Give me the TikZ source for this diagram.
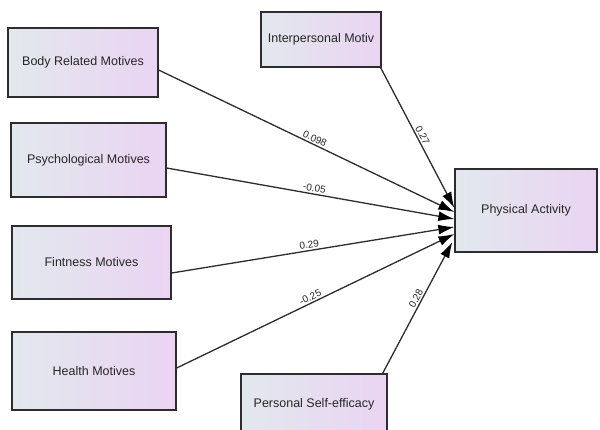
\documentclass[tikz,border=0pt]{standalone}
\usepackage{fontspec}
\setmainfont{Liberation Sans}
\usetikzlibrary{arrows.meta}
\definecolor{boxL}{RGB}{226,232,238}
\definecolor{boxR}{RGB}{234,212,242}
\definecolor{edgeC}{RGB}{45,45,45}
\tikzset{
  var/.style={draw=edgeC, line width=1.3pt, left color=boxL, right color=boxR, inner sep=0pt,
    font=\fontsize{12.5}{15}\selectfont, text=black!85},
  path/.style={draw=edgeC, line width=1.3pt, -{Latex[length=16pt,width=10pt,black]}},
  coef/.style={font=\fontsize{10}{12}\selectfont, sloped, above, inner sep=1.5pt, text=black!85}
}
\begin{document}
\begin{tikzpicture}[x=1pt,y=-1pt]
\clip (0,0) rectangle (600,429);
\useasboundingbox (0,0) rectangle (600,429);
\fill[white] (0,0) rectangle (600,429);
\node[var, minimum width=150pt, minimum height=69pt] (body) at (83,62.5) {Body Related Motives};
\node[var, minimum width=155pt, minimum height=74pt] (psych) at (88.5,160) {Psychological Motives};
\node[var, minimum width=159pt, minimum height=73pt] (fit) at (91.5,262.5) {Fintness Motives};
\node[var, minimum width=164pt, minimum height=78pt] (health) at (94,371) {Health Motives};
\node[var, minimum width=120pt, minimum height=55pt] (inter) at (321,39.5) {Interpersonal Motiv};
\node[var, minimum width=142pt, minimum height=83pt] (pa) at (526,210.5) {Physical Activity};
\node[var, minimum width=146pt, minimum height=60pt] (self) at (314,404) {Personal Self-efficacy};

\draw[path] ([yshift=-7.5pt]body.east) -- node[coef, pos=0.52] {0.098} ([yshift=-1.5pt]pa.west);
\draw[path] ([yshift=-8pt]psych.east) -- node[coef, pos=0.51] {-0.05} ([yshift=-8.5pt]pa.west);
\draw[path] ([yshift=-10.5pt]fit.east) -- node[coef, pos=0.49] {0.29} ([yshift=-16.5pt]pa.west);
\draw[path] ([yshift=3pt]health.east) -- node[coef, pos=0.49] {-0.25} ([yshift=-23.5pt]pa.west);
\draw[path] ([xshift=-1pt]inter.south east) -- node[coef, pos=0.5] {0.27} ([yshift=2.5pt]pa.west);
\draw[path] ([xshift=-5pt]self.north east) -- node[coef, pos=0.55] {0.28} ([xshift=-2pt,yshift=-31.5pt]pa.west);
\end{tikzpicture}
\end{document}
